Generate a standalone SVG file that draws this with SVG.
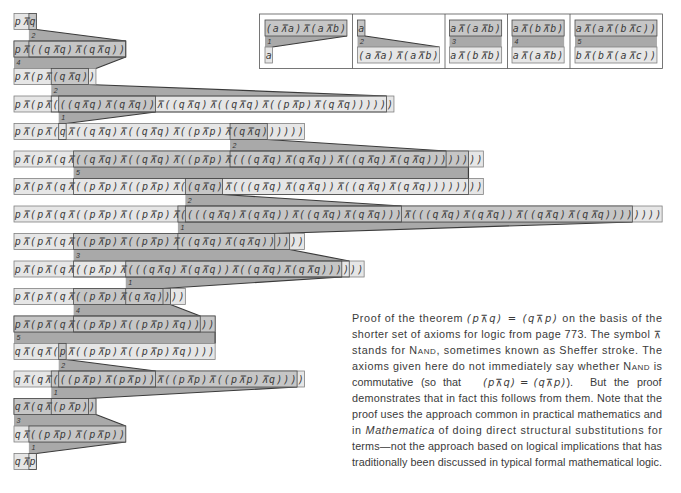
<svg xmlns="http://www.w3.org/2000/svg" width="681" height="493" viewBox="0 0 681 493">
<style>
.row{fill:#e6e6e6;stroke:#808080;stroke-width:0.8}
.src{fill:#c6c6c6;stroke:#4a4a4a;stroke-width:0.8}
.tgt{fill:none;stroke:#4a4a4a;stroke-width:0.8}
.band{fill:#a9a9a9}
.edge{stroke:#3a3a3a;stroke-width:1.2;fill:none}
.ex{font-family:"DejaVu Sans Mono",monospace;font-style:oblique;font-size:10px;fill:#3c3c3c}
.lb{font-family:"Liberation Sans",sans-serif;font-style:italic;font-size:7px;fill:#333}
.para{font-family:"Liberation Sans",Arial,sans-serif;font-size:10.8px;fill:#3a3a3a}
.m{font-family:"DejaVu Sans",sans-serif;font-style:oblique;font-size:10px;letter-spacing:1px}
.sc{font-size:8px}
</style>
<rect width="681" height="493" fill="#fff"/>

<g id="connectors">
<polygon class="band" points="28.9,29.5 36.35,29.5 125.75,41 28.9,41"/><line class="edge" x1="36.35" y1="29.5" x2="125.75" y2="41"/><text class="lb" x="31.4" y="37.5">2</text>
<polygon class="band" points="14,57 125.75,57 95.95,68.5 14,68.5"/><line class="edge" x1="125.75" y1="57" x2="95.95" y2="68.5"/><text class="lb" x="16.5" y="65">4</text>
<polygon class="band" points="51.25,84.5 88.5,84.5 386.5,96 51.25,96"/><line class="edge" x1="88.5" y1="84.5" x2="386.5" y2="96"/><text class="lb" x="53.75" y="92.5">2</text>
<polygon class="band" points="58.7,112 155.55,112 66.15,123.5 58.7,123.5"/><line class="edge" x1="155.55" y1="112" x2="66.15" y2="123.5"/><text class="lb" x="61.2" y="120">1</text>
<polygon class="band" points="230.05,139.5 267.3,139.5 446.1,151 230.05,151"/><line class="edge" x1="267.3" y1="139.5" x2="446.1" y2="151"/><text class="lb" x="232.5" y="147.5">2</text>
<polygon class="band" points="73.6,167 468.45,167 468.45,178.5 73.6,178.5"/><line class="edge" x1="468.45" y1="167" x2="468.45" y2="178.5"/><text class="lb" x="76.1" y="175">5</text>
<polygon class="band" points="185.35,194.5 222.6,194.5 401.4,206 185.35,206"/><line class="edge" x1="222.6" y1="194.5" x2="401.4" y2="206"/><text class="lb" x="187.85" y="202.5">2</text>
<polygon class="band" points="177.9,222 632.35,222 274.75,233.5 177.9,233.5"/><line class="edge" x1="632.35" y1="222" x2="274.75" y2="233.5"/><text class="lb" x="180.4" y="230">1</text>
<polygon class="band" points="73.6,249.5 289.65,249.5 349.25,261 73.6,261"/><line class="edge" x1="289.65" y1="249.5" x2="349.25" y2="261"/><text class="lb" x="76.1" y="257.5">3</text>
<polygon class="band" points="125.75,277 341.8,277 163,288.5 125.75,288.5"/><line class="edge" x1="341.8" y1="277" x2="163" y2="288.5"/><text class="lb" x="128.25" y="285">1</text>
<polygon class="band" points="73.6,304.5 170.45,304.5 200.25,316 73.6,316"/><line class="edge" x1="170.45" y1="304.5" x2="200.25" y2="316"/><text class="lb" x="76.1" y="312.5">4</text>
<polygon class="band" points="14,332 215.15,332 215.15,343.5 14,343.5"/><line class="edge" x1="215.15" y1="332" x2="215.15" y2="343.5"/><text class="lb" x="16.5" y="340">5</text>
<polygon class="band" points="58.7,359.5 66.15,359.5 155.55,371 58.7,371"/><line class="edge" x1="66.15" y1="359.5" x2="155.55" y2="371"/><text class="lb" x="61.2" y="367.5">2</text>
<polygon class="band" points="51.25,387 297.1,387 88.5,398.5 51.25,398.5"/><line class="edge" x1="297.1" y1="387" x2="88.5" y2="398.5"/><text class="lb" x="53.75" y="395">1</text>
<polygon class="band" points="14,414.5 95.95,414.5 125.75,426 14,426"/><line class="edge" x1="95.95" y1="414.5" x2="125.75" y2="426"/><text class="lb" x="16.5" y="422.5">3</text>
<polygon class="band" points="28.9,442 125.75,442 36.35,453.5 28.9,453.5"/><line class="edge" x1="125.75" y1="442" x2="36.35" y2="453.5"/><text class="lb" x="31.4" y="450">1</text>
</g>

<g id="row0"><rect class="row" x="14" y="13.5" width="22.35" height="16"/><rect class="src" x="28.9" y="13.5" width="7.45" height="16"/><text class="ex" x="14.7" y="25" textLength="20.85" lengthAdjust="spacing">p⊼q</text></g>
<g id="row1"><rect class="row" x="14" y="41" width="111.75" height="16"/><rect class="src" x="14" y="41" width="111.75" height="16"/><rect class="tgt" x="28.9" y="41" width="96.85" height="16"/><text class="ex" x="14.7" y="52.5" textLength="110.25" lengthAdjust="spacing">p⊼((q⊼q)⊼(q⊼q))</text></g>
<g id="row2"><rect class="row" x="14" y="68.5" width="81.95" height="16"/><rect class="src" x="51.25" y="68.5" width="37.25" height="16"/><text class="ex" x="14.7" y="80" textLength="80.45" lengthAdjust="spacing">p⊼(p⊼(q⊼q))</text></g>
<g id="row3"><rect class="row" x="14" y="96" width="379.95" height="16"/><rect class="src" x="58.7" y="96" width="96.85" height="16"/><rect class="tgt" x="51.25" y="96" width="335.25" height="16"/><text class="ex" x="14.7" y="107.5" textLength="378.45" lengthAdjust="spacing">p⊼(p⊼(((q⊼q)⊼(q⊼q))⊼((q⊼q)⊼((q⊼q)⊼((p⊼p)⊼(q⊼q))))))</text></g>
<g id="row4"><rect class="row" x="14" y="123.5" width="290.55" height="16"/><rect class="src" x="230.05" y="123.5" width="37.25" height="16"/><rect class="tgt" x="58.7" y="123.5" width="7.45" height="16"/><text class="ex" x="14.7" y="135" textLength="289.05" lengthAdjust="spacing">p⊼(p⊼(q⊼((q⊼q)⊼((q⊼q)⊼((p⊼p)⊼(q⊼q))))))</text></g>
<g id="row5"><rect class="row" x="14" y="151" width="469.35" height="16"/><rect class="src" x="73.6" y="151" width="394.85" height="16"/><rect class="tgt" x="230.05" y="151" width="216.05" height="16"/><text class="ex" x="14.7" y="162.5" textLength="467.85" lengthAdjust="spacing">p⊼(p⊼(q⊼((q⊼q)⊼((q⊼q)⊼((p⊼p)⊼(((q⊼q)⊼(q⊼q))⊼((q⊼q)⊼(q⊼q))))))))</text></g>
<g id="row6"><rect class="row" x="14" y="178.5" width="469.35" height="16"/><rect class="src" x="185.35" y="178.5" width="37.25" height="16"/><rect class="tgt" x="73.6" y="178.5" width="394.85" height="16"/><text class="ex" x="14.7" y="190" textLength="467.85" lengthAdjust="spacing">p⊼(p⊼(q⊼((p⊼p)⊼((p⊼p)⊼((q⊼q)⊼(((q⊼q)⊼(q⊼q))⊼((q⊼q)⊼(q⊼q))))))))</text></g>
<g id="row7"><rect class="row" x="14" y="206" width="648.15" height="16"/><rect class="src" x="177.9" y="206" width="454.45" height="16"/><rect class="tgt" x="185.35" y="206" width="216.05" height="16"/><text class="ex" x="14.7" y="217.5" textLength="646.65" lengthAdjust="spacing">p⊼(p⊼(q⊼((p⊼p)⊼((p⊼p)⊼((((q⊼q)⊼(q⊼q))⊼((q⊼q)⊼(q⊼q)))⊼(((q⊼q)⊼(q⊼q))⊼((q⊼q)⊼(q⊼q))))))))</text></g>
<g id="row8"><rect class="row" x="14" y="233.5" width="290.55" height="16"/><rect class="src" x="73.6" y="233.5" width="216.05" height="16"/><rect class="tgt" x="177.9" y="233.5" width="96.85" height="16"/><text class="ex" x="14.7" y="245" textLength="289.05" lengthAdjust="spacing">p⊼(p⊼(q⊼((p⊼p)⊼((p⊼p)⊼((q⊼q)⊼(q⊼q))))))</text></g>
<g id="row9"><rect class="row" x="14" y="261" width="350.15" height="16"/><rect class="src" x="125.75" y="261" width="216.05" height="16"/><rect class="tgt" x="73.6" y="261" width="275.65" height="16"/><text class="ex" x="14.7" y="272.5" textLength="348.65" lengthAdjust="spacing">p⊼(p⊼(q⊼((p⊼p)⊼(((q⊼q)⊼(q⊼q))⊼((q⊼q)⊼(q⊼q))))))</text></g>
<g id="row10"><rect class="row" x="14" y="288.5" width="171.35" height="16"/><rect class="src" x="73.6" y="288.5" width="96.85" height="16"/><rect class="tgt" x="125.75" y="288.5" width="37.25" height="16"/><text class="ex" x="14.7" y="300" textLength="169.85" lengthAdjust="spacing">p⊼(p⊼(q⊼((p⊼p)⊼(q⊼q))))</text></g>
<g id="row11"><rect class="row" x="14" y="316" width="201.15" height="16"/><rect class="src" x="14" y="316" width="201.15" height="16"/><rect class="tgt" x="73.6" y="316" width="126.65" height="16"/><text class="ex" x="14.7" y="327.5" textLength="199.65" lengthAdjust="spacing">p⊼(p⊼(q⊼((p⊼p)⊼((p⊼p)⊼q))))</text></g>
<g id="row12"><rect class="row" x="14" y="343.5" width="201.15" height="16"/><rect class="src" x="58.7" y="343.5" width="7.45" height="16"/><text class="ex" x="14.7" y="355" textLength="199.65" lengthAdjust="spacing">q⊼(q⊼(p⊼((p⊼p)⊼((p⊼p)⊼q))))</text></g>
<g id="row13"><rect class="row" x="14" y="371" width="290.55" height="16"/><rect class="src" x="51.25" y="371" width="245.85" height="16"/><rect class="tgt" x="58.7" y="371" width="96.85" height="16"/><text class="ex" x="14.7" y="382.5" textLength="289.05" lengthAdjust="spacing">q⊼(q⊼(((p⊼p)⊼(p⊼p))⊼((p⊼p)⊼((p⊼p)⊼q))))</text></g>
<g id="row14"><rect class="row" x="14" y="398.5" width="81.95" height="16"/><rect class="src" x="14" y="398.5" width="81.95" height="16"/><rect class="tgt" x="51.25" y="398.5" width="37.25" height="16"/><text class="ex" x="14.7" y="410" textLength="80.45" lengthAdjust="spacing">q⊼(q⊼(p⊼p))</text></g>
<g id="row15"><rect class="row" x="14" y="426" width="111.75" height="16"/><rect class="src" x="28.9" y="426" width="96.85" height="16"/><text class="ex" x="14.7" y="437.5" textLength="110.25" lengthAdjust="spacing">q⊼((p⊼p)⊼(p⊼p))</text></g>
<g id="row16"><rect class="row" x="14" y="453.5" width="22.35" height="16"/><rect class="tgt" x="28.9" y="453.5" width="7.45" height="16"/><text class="ex" x="14.7" y="465" textLength="20.85" lengthAdjust="spacing">q⊼p</text></g>

<g id="rules">
<rect x="259.5" y="14" width="403" height="54.5" fill="#fff" stroke="#555" stroke-width="0.8"/>
<line x1="352.5" y1="14" x2="352.5" y2="68.5" stroke="#555" stroke-width="0.8"/>
<line x1="445" y1="14" x2="445" y2="68.5" stroke="#555" stroke-width="0.8"/>
<line x1="507.5" y1="14" x2="507.5" y2="68.5" stroke="#555" stroke-width="0.8"/>
<line x1="570" y1="14" x2="570" y2="68.5" stroke="#555" stroke-width="0.8"/>
<g id="rule1">
<polygon class="band" points="265,36 346.95,36 272.45,47 265,47"/><line class="edge" x1="346.95" y1="36" x2="272.45" y2="47"/><text class="lb" x="267.5" y="43.5">1</text>
<rect class="src" x="265" y="20" width="81.95" height="16"/><text class="ex" x="265.7" y="31.5" textLength="80.45" lengthAdjust="spacing">(a⊼a)⊼(a⊼b)</text>
<rect class="row" x="265" y="47" width="7.45" height="16"/><text class="ex" x="265.7" y="58.5">a</text>
</g>
<g id="rule2">
<polygon class="band" points="357.5,36 364.95,36 439.45,47 357.5,47"/><line class="edge" x1="364.95" y1="36" x2="439.45" y2="47"/><text class="lb" x="360" y="43.5">2</text>
<rect class="src" x="357.5" y="20" width="7.45" height="16"/><text class="ex" x="358.2" y="31.5">a</text>
<rect class="row" x="357.5" y="47" width="81.95" height="16"/><text class="ex" x="358.2" y="58.5" textLength="80.45" lengthAdjust="spacing">(a⊼a)⊼(a⊼b)</text>
</g>
<g id="rule3">
<rect class="band" x="449.5" y="36" width="52.15" height="11"/><text class="lb" x="452" y="43.5">3</text>
<rect class="src" x="449.5" y="20" width="52.15" height="16"/><text class="ex" x="450.2" y="31.5" textLength="50.65" lengthAdjust="spacing">a⊼(a⊼b)</text>
<rect class="row" x="449.5" y="47" width="52.15" height="16"/><text class="ex" x="450.2" y="58.5" textLength="50.65" lengthAdjust="spacing">a⊼(b⊼b)</text>
</g>
<g id="rule4">
<rect class="band" x="512" y="36" width="52.15" height="11"/><text class="lb" x="514.5" y="43.5">4</text>
<rect class="src" x="512" y="20" width="52.15" height="16"/><text class="ex" x="512.7" y="31.5" textLength="50.65" lengthAdjust="spacing">a⊼(b⊼b)</text>
<rect class="row" x="512" y="47" width="52.15" height="16"/><text class="ex" x="512.7" y="58.5" textLength="50.65" lengthAdjust="spacing">a⊼(a⊼b)</text>
</g>
<g id="rule5">
<rect class="band" x="575" y="36" width="81.95" height="11"/><text class="lb" x="577.5" y="43.5">5</text>
<rect class="src" x="575" y="20" width="81.95" height="16"/><text class="ex" x="575.7" y="31.5" textLength="80.45" lengthAdjust="spacing">a⊼(a⊼(b⊼c))</text>
<rect class="row" x="575" y="47" width="81.95" height="16"/><text class="ex" x="575.7" y="58.5" textLength="80.45" lengthAdjust="spacing">b⊼(b⊼(a⊼c))</text>
</g>
</g>

<g id="caption" class="para">
<text x="352" y="322" textLength="310" lengthAdjust="spacing">Proof of the theorem <tspan class="m">(p⊼q) = (q⊼p)</tspan> on the basis of the</text>
<text x="352" y="338" textLength="310" lengthAdjust="spacing">shorter set of axioms for logic from page 773. The symbol <tspan class="m">⊼</tspan></text>
<text x="352" y="354" textLength="310" lengthAdjust="spacing">stands for N<tspan class="sc">AND</tspan>, sometimes known as Sheffer stroke. The</text>
<text x="352" y="370" textLength="310" lengthAdjust="spacing">axioms given here do not immediately say whether N<tspan class="sc">AND</tspan> is</text>
<text x="352" y="386">commutative</text>
<text x="421" y="386">(so</text>
<text x="443" y="386">that</text>
<text x="483" y="386"><tspan class="m">(p⊼q) = (q⊼p)</tspan>).</text>
<text x="590" y="386">But</text>
<text x="614" y="386">the</text>
<text x="637" y="386">proof</text>
<text x="352" y="402" textLength="310" lengthAdjust="spacing">demonstrates that in fact this follows from them. Note that the</text>
<text x="352" y="418" textLength="310" lengthAdjust="spacing">proof uses the approach common in practical mathematics and</text>
<text x="352" y="434" textLength="310" lengthAdjust="spacing">in <tspan font-style="italic">Mathematica</tspan> of doing direct structural substitutions for</text>
<text x="352" y="450" textLength="310" lengthAdjust="spacing">terms—not the approach based on logical implications that has</text>
<text x="352" y="466" textLength="310" lengthAdjust="spacing">traditionally been discussed in typical formal mathematical logic.</text>
</g>
</svg>
